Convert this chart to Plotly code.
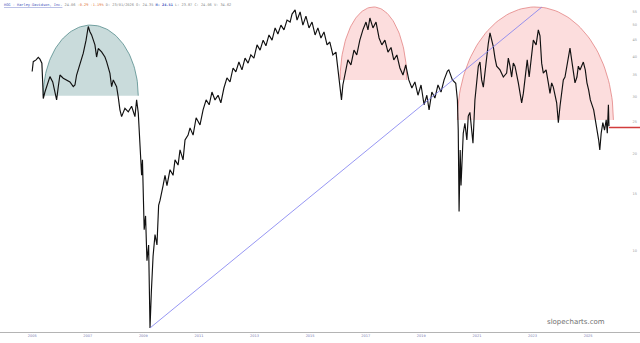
import plotly.graph_objects as go
import numpy as np
from datetime import datetime, timedelta

# ---- data (decimal year, adjusted price) ----
years = [2005.00, 2005.04, 2005.14, 2005.22, 2005.28, 2005.35, 2005.38, 2005.40, 2005.46, 2005.58,
         2005.64, 2005.74, 2005.82, 2005.88, 2005.94, 2006.00, 2006.12, 2006.24, 2006.36, 2006.48,
         2006.54, 2006.60, 2006.72, 2006.84, 2006.94, 2007.02, 2007.08, 2007.14, 2007.26, 2007.32,
         2007.38, 2007.50, 2007.62, 2007.68, 2007.80, 2007.86, 2007.92, 2008.04, 2008.10, 2008.16,
         2008.22, 2008.34, 2008.46, 2008.58, 2008.70, 2008.76, 2008.82, 2008.88, 2008.94, 2008.97,
         2009.03, 2009.08, 2009.13, 2009.19, 2009.24, 2009.29, 2009.35, 2009.42, 2009.49, 2009.55,
         2009.60, 2009.71, 2009.78, 2009.85, 2009.96, 2010.07, 2010.14, 2010.25, 2010.32, 2010.43,
         2010.50, 2010.61, 2010.68, 2010.79, 2010.90, 2011.04, 2011.15, 2011.26, 2011.37, 2011.47,
         2011.58, 2011.69, 2011.79, 2011.90, 2012.01, 2012.12, 2012.23, 2012.33, 2012.44, 2012.55,
         2012.66, 2012.77, 2012.87, 2012.98, 2013.09, 2013.20, 2013.31, 2013.41, 2013.52, 2013.63,
         2013.74, 2013.84, 2013.95, 2014.06, 2014.17, 2014.28, 2014.35, 2014.46, 2014.53, 2014.64,
         2014.74, 2014.85, 2014.96, 2015.07, 2015.18, 2015.28, 2015.39, 2015.50, 2015.61, 2015.71,
         2015.82, 2015.93, 2016.00, 2016.08, 2016.13, 2016.18, 2016.26, 2016.36, 2016.47, 2016.58,
         2016.68, 2016.79, 2016.90, 2017.01, 2017.08, 2017.15, 2017.26, 2017.37, 2017.48, 2017.58,
         2017.69, 2017.80, 2017.91, 2018.01, 2018.12, 2018.23, 2018.34, 2018.44, 2018.55, 2018.66,
         2018.77, 2018.88, 2018.99, 2019.10, 2019.20, 2019.28, 2019.38, 2019.49, 2019.60, 2019.71,
         2019.82, 2019.94, 2019.99, 2020.12, 2020.24, 2020.30, 2020.33, 2020.36, 2020.40, 2020.43,
         2020.51, 2020.57, 2020.64, 2020.69, 2020.75, 2020.86, 2020.93, 2020.99, 2021.05, 2021.11,
         2021.17, 2021.23, 2021.29, 2021.35, 2021.41, 2021.47, 2021.53, 2021.59, 2021.65, 2021.71,
         2021.83, 2021.95, 2022.07, 2022.13, 2022.19, 2022.25, 2022.31, 2022.37, 2022.49, 2022.61,
         2022.67, 2022.77, 2022.81, 2022.88, 2022.97, 2023.03, 2023.13, 2023.21, 2023.27, 2023.33,
         2023.39, 2023.49, 2023.57, 2023.63, 2023.69, 2023.75, 2023.87, 2023.93, 2023.99, 2024.05,
         2024.11, 2024.17, 2024.23, 2024.29, 2024.35, 2024.41, 2024.47, 2024.53, 2024.60, 2024.65,
         2024.71, 2024.78, 2024.83, 2024.90, 2024.96, 2025.02, 2025.08, 2025.20, 2025.26, 2025.32,
         2025.38, 2025.42, 2025.47, 2025.53, 2025.59, 2025.65, 2025.69, 2025.73, 2025.75]
prices = [35.9, 38.5, 39.0, 39.7, 39.2, 38.1, 33.0, 29.6, 31.0, 33.3,
          34.6, 33.3, 31.0, 29.3, 32.2, 35.0, 34.2, 33.8, 33.3, 32.2,
          32.6, 35.0, 38.1, 40.9, 44.9, 49.5, 47.7, 46.6, 43.4, 39.8,
          42.3, 41.3, 39.8, 38.5, 35.4, 32.2, 33.8, 32.2, 29.9, 27.3,
          26.0, 27.6, 26.9, 28.0, 26.0, 29.3, 26.7, 22.0, 17.1, 19.1,
          11.6, 12.8, 9.3, 10.4, 5.75, 7.5, 9.6, 11.2, 10.4, 13.8,
          14.3, 15.9, 17.1, 15.9, 17.8, 17.1, 19.1, 18.4, 20.5, 19.1,
          22.0, 22.8, 24.0, 22.8, 25.8, 24.5, 27.3, 29.3, 28.3, 31.0,
          29.3, 30.3, 28.7, 31.9, 34.3, 33.3, 36.8, 35.8, 38.4, 36.3,
          39.5, 38.1, 40.4, 39.5, 43.4, 41.8, 44.9, 43.1, 46.6, 44.9,
          49.0, 46.9, 50.0, 48.3, 51.8, 51.1, 54.1, 55.7, 51.8, 54.9,
          50.0, 53.3, 49.0, 51.1, 46.6, 49.0, 45.6, 47.6, 43.4, 44.3,
          40.4, 41.2, 36.8, 31.9, 29.3, 32.6, 35.0, 39.0, 37.6, 41.8,
          40.4, 44.9, 48.3, 51.1, 48.3, 52.6, 49.0, 51.1, 45.6, 43.4,
          44.9, 41.2, 42.6, 39.0, 40.4, 36.8, 35.0, 37.6, 33.8, 31.9,
          33.3, 30.3, 32.6, 28.3, 30.3, 27.3, 31.0, 29.7, 32.6, 31.0,
          33.8, 36.0, 36.3, 33.8, 33.0, 29.3, 23.6, 13.2, 20.5, 15.9,
          23.1, 24.8, 22.0, 26.1, 26.8, 21.5, 29.3, 33.8, 37.3, 38.4,
          33.8, 32.1, 36.3, 39.0, 43.9, 47.3, 44.9, 42.8, 39.5, 37.3,
          36.3, 34.5, 35.5, 39.5, 37.3, 34.5, 38.1, 37.3, 33.1, 28.7,
          30.7, 36.3, 39.0, 34.5, 41.0, 44.9, 43.4, 48.3, 46.3, 38.1,
          35.5, 36.3, 33.1, 30.7, 33.1, 32.1, 28.7, 24.9, 28.0, 31.4,
          33.8, 34.5, 37.3, 39.9, 42.4, 39.0, 35.5, 33.1, 34.5, 37.3,
          36.3, 37.3, 38.4, 36.3, 33.1, 31.4, 29.3, 27.3, 25.4, 24.1,
          22.0, 20.5, 23.1, 24.9, 23.6, 25.4, 23.1, 28.3, 24.3]

last_price = 24.06
x_tick_years = [2005, 2007, 2009, 2011, 2013, 2015, 2017, 2019, 2021, 2023, 2025]
y_tick_vals = [10, 15, 20, 25, 30, 35, 40, 45, 50, 55]

# drawn annotations: (start year, end year, base price, top price)
blue_arc = (2005.40, 2008.82, 30.2, 50.0)
pink_arc1 = (2016.08, 2018.48, 33.8, 56.9)
pink_arc2 = (2020.30, 2025.91, 25.4, 56.9)
trend_line = ((2009.24, 5.75), (2023.33, 56.8))


def yr2dt(y):
    yi = int(np.floor(y))
    return datetime(yi, 1, 1) + timedelta(days=(y - yi) * 365.25)


def arc(spec, n=80):
    x0, x1, base, top = spec
    cx, rx = (x0 + x1) / 2, (x1 - x0) / 2
    h = np.log10(top / base)
    th = np.linspace(0, np.pi, n)
    xs = [yr2dt(cx + rx * np.cos(t)) for t in th]
    ys = list(base * 10 ** (h * np.sin(th)))
    return xs, ys


fig = go.Figure()

for spec, fc, lc in [(blue_arc, "rgba(60,125,125,0.28)", "rgba(70,130,130,0.9)"),
                     (pink_arc1, "rgba(245,120,120,0.25)", "rgba(225,120,120,0.9)"),
                     (pink_arc2, "rgba(245,120,120,0.25)", "rgba(225,120,120,0.9)")]:
    xs, ys = arc(spec)
    fig.add_trace(go.Scatter(x=xs, y=ys, mode="lines", fill="toself", fillcolor=fc,
                             line=dict(color=lc, width=0.8), hoverinfo="skip"))

fig.add_trace(go.Scatter(x=[yr2dt(v) for v in years], y=prices, mode="lines",
                         line=dict(color="#111111", width=1.15)))

fig.add_trace(go.Scatter(x=[yr2dt(trend_line[0][0]), yr2dt(trend_line[1][0])],
                         y=[trend_line[0][1], trend_line[1][1]], mode="lines",
                         line=dict(color="#7c7cf0", width=0.8)))

fig.add_shape(type="line", xref="x", yref="y", x0=yr2dt(years[-1]), x1=yr2dt(2026.95),
              y0=last_price, y1=last_price, line=dict(color="#d23c3c", width=1.3))

title = ("<u>HOG - Harley-Davidson, Inc.</u> "
         "<span style='color:#888'>24.06</span> "
         "<span style='color:#e07030'>-0.29 -1.19%</span> "
         "<span style='color:#888'>D: 23/01/2026 O: 24.35 </span>"
         "<b>H: 24.51</b><span style='color:#888'> L: 23.87 C: 24.06 V: 34.62</span>")
fig.add_annotation(text=title, xref="paper", yref="paper", x=0.003, y=0.997,
                   xanchor="left", yanchor="top", showarrow=False,
                   font=dict(family="DejaVu Sans Mono", size=3.6, color="#4455bb"))

fig.add_annotation(text="slopecharts.com", xref="paper", yref="paper", x=0.949, y=0.012,
                   xanchor="right", yanchor="bottom", showarrow=False,
                   font=dict(family="DejaVu Sans", size=7, color="#707070"))

fig.update_layout(
    width=640, height=343,
    margin=dict(l=0, r=0, t=0, b=11),
    paper_bgcolor="white", plot_bgcolor="white",
    showlegend=False,
    xaxis=dict(type="date", range=[yr2dt(2003.845), yr2dt(2026.867)],
               tickvals=[datetime(y, 1, 1) for y in x_tick_years],
               ticktext=[str(y) for y in x_tick_years],
               showgrid=False, zeroline=False, showline=True, linecolor="#b4b4b4", linewidth=1,
               ticks="", tickfont=dict(family="DejaVu Sans", size=3.5, color="#7a7ab0")),
    yaxis=dict(type="log", range=[0.7472, 1.7767], side="right",
               tickvals=y_tick_vals, ticktext=[str(v) for v in y_tick_vals],
               ticklabelposition="inside", showgrid=False, zeroline=False,
               ticks="", tickfont=dict(family="DejaVu Sans", size=3.5, color="#999999")),
)

fig.write_html("out.html")
